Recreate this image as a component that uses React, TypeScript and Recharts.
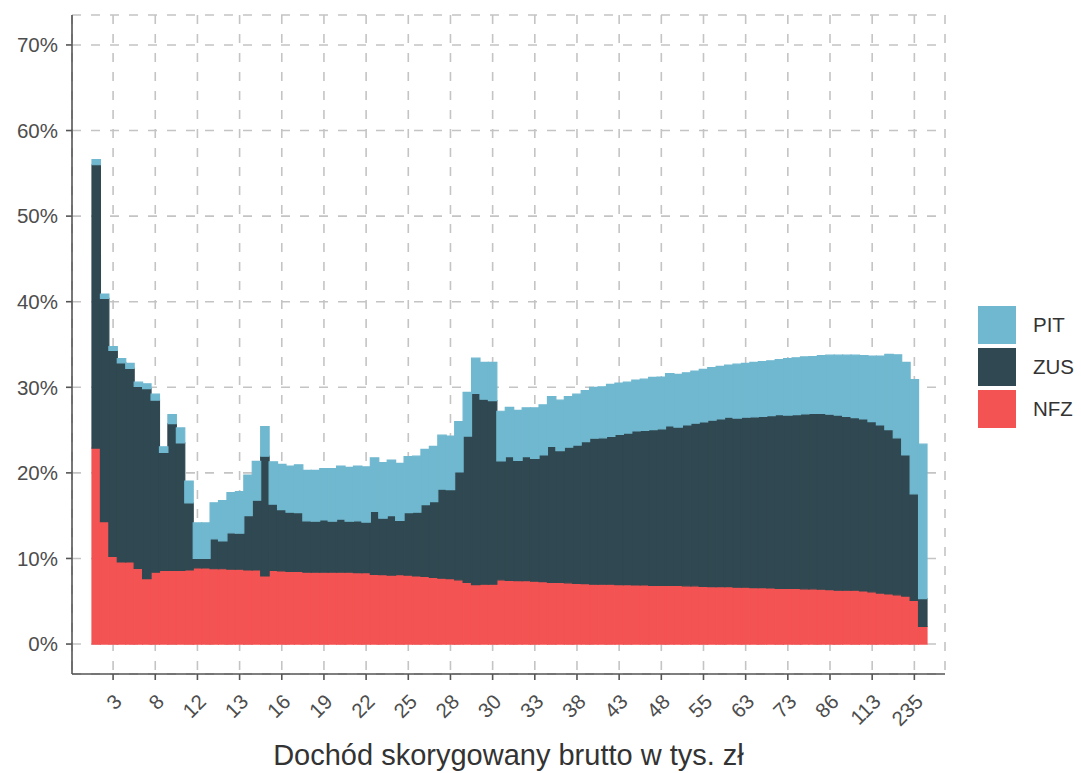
import { Bar, BarChart, CartesianGrid, XAxis, YAxis } from "recharts";

if (typeof document !== "undefined") document.body.style.margin = "0";

// udział składek/podatku w dochodzie, % (kolejne grupy dochodowe)
const nfz = [
  22.9, 14.3, 10.25, 9.6, 9.6, 8.85, 7.65, 8.4, 8.6, 8.6,
  8.6, 8.65, 8.9, 8.9, 8.8, 8.8, 8.75, 8.75, 8.65, 8.65,
  7.95, 8.6, 8.55, 8.5, 8.5, 8.4, 8.4, 8.4, 8.4, 8.4,
  8.4, 8.35, 8.35, 8.15, 8.1, 8.05, 8.1, 8.05, 7.95, 7.9,
  7.8, 7.7, 7.65, 7.5, 7.2, 6.95, 7.0, 7.0, 7.5, 7.45,
  7.4, 7.4, 7.35, 7.3, 7.2, 7.2, 7.15, 7.1, 7.05, 7.0,
  7.0, 7.0, 6.95, 6.95, 6.9, 6.9, 6.85, 6.85, 6.85, 6.85,
  6.8, 6.8, 6.75, 6.7, 6.7, 6.7, 6.65, 6.65, 6.6, 6.6,
  6.55, 6.5, 6.5, 6.5, 6.45, 6.45, 6.4, 6.35, 6.3, 6.3,
  6.3, 6.2, 6.1, 5.95, 5.85, 5.75, 5.6, 5.1, 2.05,
];

const zus = [
  33.1, 26.1, 24.05, 23.25, 22.6, 21.25, 22.2, 20.1, 13.8, 17.15,
  14.9, 7.85, 1.1, 1.1, 3.5, 3.25, 4.25, 4.2, 6.35, 8.15,
  14.0, 7.75, 7.15, 6.9, 6.85, 6.0, 5.95, 6.1, 5.95, 6.2,
  5.95, 6.05, 5.9, 7.35, 6.6, 6.95, 6.35, 7.3, 7.45, 8.4,
  8.85, 10.4, 10.4, 12.6, 17.1, 22.35, 21.6, 21.45, 13.9, 14.45,
  14.05, 14.5, 14.35, 14.8, 15.9, 15.4, 15.85, 16.15, 16.6, 17.05,
  17.1, 17.25, 17.55, 17.7, 18.0, 18.05, 18.2, 18.3, 18.65, 18.5,
  18.8, 19.0, 19.2, 19.45, 19.6, 19.8, 19.75, 19.85, 19.95, 20.0,
  20.15, 20.3, 20.25, 20.3, 20.45, 20.5, 20.55, 20.5, 20.45, 20.3,
  20.15, 20.1, 19.9, 19.65, 19.2, 18.35, 16.5, 12.45, 3.25,
];

const pit = [
  0.6, 0.5, 0.45, 0.5, 0.6, 0.5, 0.55, 0.7, 0.65, 1.05,
  1.75, 2.55, 4.15, 4.15, 4.2, 4.7, 4.7, 4.85, 4.75, 4.55,
  3.45, 4.95, 5.3, 5.4, 5.6, 5.9, 5.95, 6.0, 6.15, 6.2,
  6.3, 6.4, 6.45, 6.25, 6.5, 6.5, 6.65, 6.55, 6.55, 6.45,
  6.45, 6.3, 6.25, 5.9, 5.1, 4.1, 4.3, 4.45, 5.8, 5.75,
  5.85, 5.7, 5.9, 5.85, 5.8, 5.9, 5.9, 5.95, 5.95, 5.95,
  5.95, 6.1, 6.0, 5.95, 5.95, 6.0, 6.1, 6.05, 6.1, 6.15,
  6.1, 6.1, 6.15, 6.15, 6.15, 6.1, 6.3, 6.3, 6.35, 6.4,
  6.4, 6.45, 6.6, 6.65, 6.65, 6.65, 6.75, 6.9, 7.0, 7.15,
  7.3, 7.4, 7.65, 8.05, 8.8, 9.7, 10.8, 13.35, 18.05,
];

// co piąta grupa ma etykietę (dochód w tys. zł)
const tickBins = [3, 8, 13, 18, 23, 28, 33, 38, 43, 48, 53, 58, 63, 68, 73, 78, 83, 88, 93, 98];
const tickLabels = ["3", "8", "12", "13", "16", "19", "22", "25", "28", "30", "33", "38", "43", "48", "55", "63", "73", "86", "113", "235"];
const yTicks = [0, 10, 20, 30, 40, 50, 60, 70];

const bins = nfz.map((_, i) => i + 1);
const data = bins.map((bin, i) => ({ bin, NFZ: nfz[i], ZUS: zus[i], PIT: pit[i] }));

const COLORS: Record<string, string> = { PIT: "#70b8cf", ZUS: "#304851", NFZ: "#f45353" };
const FONT = '"Liberation Sans", Arial, sans-serif';
const AXIS = "#555";
const legendItems = ["PIT", "ZUS", "NFZ"];

function XTick(props: any) {
  const { x, y, payload } = props;
  const label = tickLabels[tickBins.indexOf(payload.value)];
  const tx = x + 10;
  const ty = y + 21;
  return (
    <text
      x={tx}
      y={ty}
      transform={`rotate(-45, ${tx}, ${ty})`}
      textAnchor="end"
      fontSize={20.5}
      fill="#4d4d4d"
      fontFamily={FONT}
    >
      {label}
    </text>
  );
}

export default function App() {
  return (
    <div style={{ position: "relative", width: 1081, height: 773, background: "#fff" }}>
      <BarChart
        width={1081}
        height={773}
        data={data}
        margin={{ top: 15, right: 136, bottom: 0, left: 0 }}
        barCategoryGap={0}
        barGap={0}
        barSize={8.43}
      >
        <CartesianGrid stroke="#c4c4c4" strokeDasharray="9 10" strokeWidth={1.6} />
        <XAxis
          dataKey="bin"
          type="category"
          ticks={tickBins}
          interval={0}
          height={99}
          padding={{ left: 20, right: 18 }}
          tick={XTick}
          tickSize={6}
          axisLine={{ stroke: AXIS, strokeWidth: 1.6 }}
          tickLine={{ stroke: AXIS, strokeWidth: 1.6 }}
          label={{
            value: "Dochód skorygowany brutto w tys. zł",
            position: "insideBottom",
            offset: 8,
            fontSize: 29,
            fill: "#333",
            fontFamily: FONT,
          }}
        />
        <YAxis
          domain={[-3.5, 73.5]}
          allowDataOverflow
          ticks={yTicks}
          interval={0}
          tickFormatter={(v) => `${v}%`}
          width={72}
          tickSize={6}
          tickMargin={8}
          axisLine={{ stroke: AXIS, strokeWidth: 1.6 }}
          tickLine={{ stroke: AXIS, strokeWidth: 1.6 }}
          tick={{ fontSize: 20.5, fill: "#4d4d4d", fontFamily: FONT }}
        />
        <Bar dataKey="NFZ" stackId="a" fill={COLORS.NFZ} stroke={COLORS.NFZ} strokeWidth={1.2} isAnimationActive={false} />
        <Bar dataKey="ZUS" stackId="a" fill={COLORS.ZUS} stroke={COLORS.ZUS} strokeWidth={1.2} isAnimationActive={false} />
        <Bar dataKey="PIT" stackId="a" fill={COLORS.PIT} stroke={COLORS.PIT} strokeWidth={1.2} isAnimationActive={false} />
      </BarChart>
      <div style={{ position: "absolute", left: 978, top: 304, fontFamily: FONT }}>
        {legendItems.map((k) => (
          <div key={k} style={{ display: "flex", alignItems: "center", height: 42 }}>
            <div style={{ width: 38, height: 38, background: COLORS[k] }} />
            <span style={{ marginLeft: 17, fontSize: 20.5, color: "#333" }}>{k}</span>
          </div>
        ))}
      </div>
    </div>
  );
}
